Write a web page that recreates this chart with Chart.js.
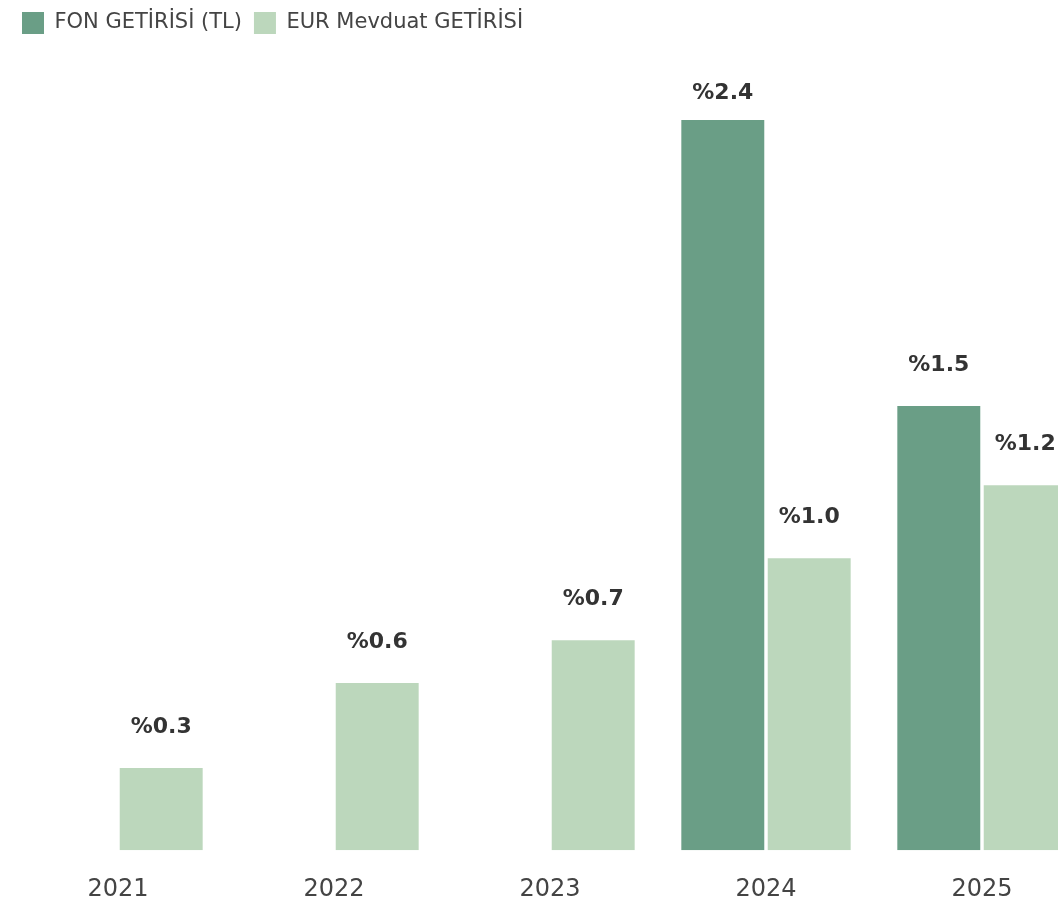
<!DOCTYPE html>
<html>
<head>
<meta charset="utf-8">
<script src="https://cdn.jsdelivr.net/npm/chart.js@4.4.1/dist/chart.umd.min.js"></script>
<style>
  html, body { margin: 0; padding: 0; background: #fff; overflow: hidden; }
  #wrap { width: 1100px; height: 933px; }
</style>
</head>
<body>
<div id="wrap"><canvas id="fonChart" width="1100" height="933"></canvas></div>
<script>
const years = ["2021", "2022", "2023", "2024", "2025"];
const fonGetirisi = [null, null, null, 2.4, 1.46];
const eurMevduat = [0.27, 0.55, 0.69, 0.96, 1.2];
const seriesNames = ["FON GETİRİSİ (TL)", "EUR Mevduat GETİRİSİ"];

// etiketleri çubukların üstüne yaz
const valueLabels = {
  id: "valueLabels",
  afterDatasetsDraw(chart) {
    const ctx = chart.ctx;
    ctx.save();
    ctx.font = "bold 22px 'DejaVu Sans'";
    ctx.fillStyle = "#333333";
    ctx.textAlign = "center";
    ctx.textBaseline = "middle";
    chart.data.datasets.forEach((ds, i) => {
      const meta = chart.getDatasetMeta(i);
      meta.data.forEach((bar, j) => {
        const v = ds.data[j];
        if (v === null || v === undefined) return;
        const y = Math.max(bar.y - 41, chart.chartArea.top + 49);
        ctx.fillText("%" + v.toFixed(1), bar.x, y);
      });
    });
    ctx.restore();
  },
};

const ctx = document.getElementById("fonChart").getContext("2d");
new Chart(ctx, {
  type: "bar",
  data: {
    labels: years,
    datasets: [
      {
        label: seriesNames[0],
        data: fonGetirisi,
        backgroundColor: "#6a9e86",
        categoryPercentage: 0.8,
        barPercentage: 0.96,
      },
      {
        label: seriesNames[1],
        data: eurMevduat,
        backgroundColor: "#bcd7bc",
        categoryPercentage: 0.8,
        barPercentage: 0.96,
      },
    ],
  },
  options: {
    responsive: false,
    animation: false,
    layout: { padding: { left: 10, right: 10, top: 0, bottom: 4 } },
    plugins: {
      legend: {
        position: "top",
        align: "start",
        labels: {
          boxWidth: 22,
          boxHeight: 22,
          padding: 12,
          color: "#444444",
          font: { family: "'DejaVu Sans'", size: 21 },
        },
      },
      tooltip: { enabled: false },
    },
    scales: {
      x: {
        grid: { display: false, drawTicks: false },
        border: { display: false },
        ticks: {
          color: "#444444",
          padding: 25,
          font: { family: "'DejaVu Sans'", size: 24 },
        },
      },
      y: {
        display: false,
        min: 0,
        max: 2.65,
      },
    },
  },
  plugins: [valueLabels],
});
</script>
</body>
</html>
